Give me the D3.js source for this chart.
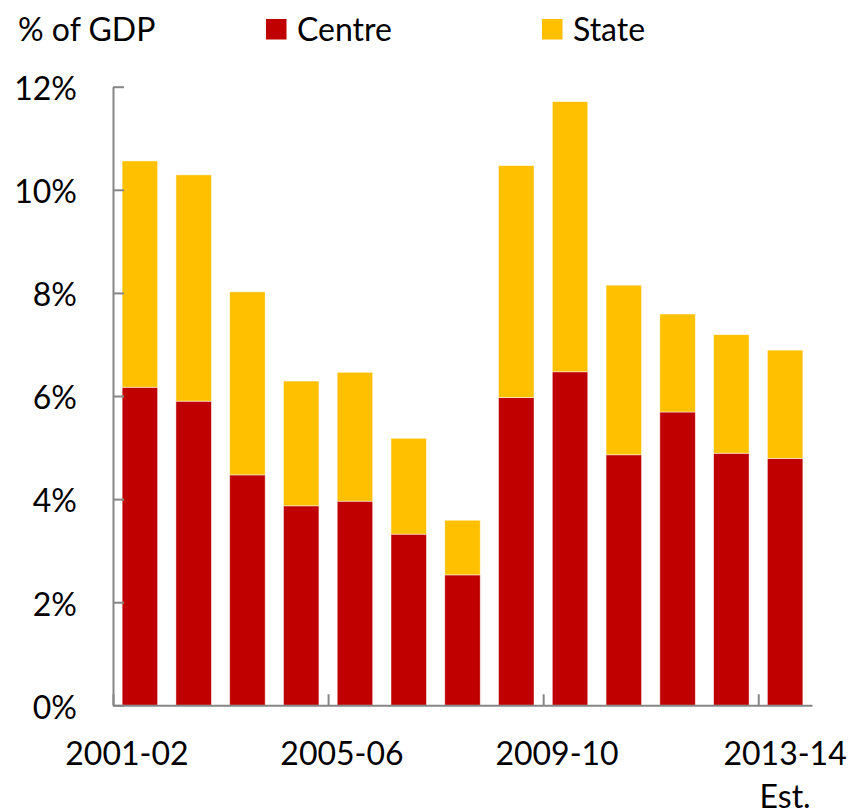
<!DOCTYPE html>
<html>
<head>
<meta charset="utf-8">
<script src="https://cdn.jsdelivr.net/npm/d3@7"></script>
<style>
   body { margin: 0; background: #fff; }
   svg { display: block; font-family: Lato, "Open Sans", sans-serif; }
</style>
</head>
<body>
<svg width="852" height="811"></svg>
<script>
// DATA
var years = ['2001-02', '2002-03', '2003-04', '2004-05', '2005-06', '2006-07', '2007-08',
   '2008-09', '2009-10', '2010-11', '2011-12', '2012-13', '2013-14'];
var centre = [6.17, 5.90, 4.47, 3.87, 3.96, 3.32, 2.53, 5.97, 6.47, 4.86, 5.69, 4.89, 4.79];
var state = [4.39, 4.39, 3.55, 2.42, 2.50, 1.86, 1.06, 4.50, 5.24, 3.29, 1.90, 2.30, 2.10];
var yTicks = [0, 2, 4, 6, 8, 10, 12];
var xLabels = [
   {year: '2001-02', lines: ['2001-02']},
   {year: '2005-06', lines: ['2005-06']},
   {year: '2009-10', lines: ['2009-10']},
   {year: '2013-14', lines: ['2013-14', 'Est.']}
];
var seriesNames = ['Centre', 'State'];
var colors = {Centre: '#C00000', State: '#FFC000'};

(function () {
   var svg = d3.select('svg');
   var axisColor = '#868686';

   var plot = {left: 113, right: 812, top: 86.7, bottom: 705.3};

   var x = d3.scaleBand()
      .domain(years)
      .range([plot.left, plot.right])
      .paddingInner(0.34)
      .paddingOuter(0.17);

   // category boundaries, for the x tick marks
   var xEdge = d3.scaleLinear().domain([0, years.length]).range([plot.left, plot.right]);

   var y = d3.scaleLinear().domain([0, 12]).range([plot.bottom, plot.top]);

   var rows = years.map(function (yr, i) {
      return {year: yr, Centre: centre[i], State: state[i]};
   });

   var stacked = d3.stack().keys(seriesNames)(rows);

   // bars
   svg.append('g')
      .selectAll('g')
      .data(stacked)
      .enter().append('g')
      .attr('fill', function (d) { return colors[d.key]; })
      .selectAll('rect')
      .data(function (d) { return d; })
      .enter().append('rect')
      .attr('x', function (d) { return x(d.data.year); })
      .attr('y', function (d) { return y(d[1]); })
      .attr('width', x.bandwidth())
      .attr('height', function (d) { return y(d[0]) - y(d[1]); })
      .attr('stroke', '#fff')
      .attr('stroke-opacity', 0.6)
      .attr('stroke-width', 0.8);

   // y axis
   var yAxis = svg.append('g')
      .attr('transform', 'translate(' + plot.left + ',0)')
      .call(d3.axisLeft(y).tickValues(yTicks).tickSize(-11).tickSizeOuter(0).tickPadding(36)
         .tickFormat(function (d) { return d + '%'; }));
   yAxis.select('.domain').attr('stroke', axisColor).attr('stroke-width', 2);
   yAxis.selectAll('.tick line').attr('stroke', axisColor).attr('stroke-width', 2);
   yAxis.selectAll('.tick text')
      .attr('font-size', 32)
      .attr('font-family', 'Lato, sans-serif')
      .attr('fill', '#000')
      .attr('dy', '0.4em');

   // x axis: line plus tick marks pointing up at category boundaries
   var xAxis = svg.append('g')
      .attr('transform', 'translate(0,' + plot.bottom + ')')
      .call(d3.axisBottom(xEdge).tickValues([0, 4, 8, 12]).tickSize(-11).tickSizeOuter(0).tickFormat(''));
   xAxis.select('.domain').attr('stroke', axisColor).attr('stroke-width', 2);
   xAxis.selectAll('.tick line').attr('stroke', axisColor).attr('stroke-width', 2);

   // x labels
   var lbl = svg.append('g')
      .selectAll('text')
      .data(xLabels)
      .enter().append('text')
      .attr('text-anchor', 'middle')
      .attr('font-size', 32)
      .attr('fill', '#000')
      .attr('transform', function (d) {
         var shift = d.lines.length > 1 ? 0 : -13;
         return 'translate(' + (x(d.year) + x.bandwidth() / 2 + shift) + ',765)';
      });
   lbl.selectAll('tspan')
      .data(function (d) { return d.lines; })
      .enter().append('tspan')
      .attr('x', 0)
      .attr('y', function (d, i) { return i * 43; })
      .text(function (d) { return d; });

   // legend
   svg.append('text')
      .attr('x', 18)
      .attr('y', 41)
      .attr('font-size', 32)
      .attr('fill', '#000')
      .text('% of GDP');

   var legendX = {Centre: 266, State: 542};
   var legend = svg.selectAll('.legend')
      .data(seriesNames)
      .enter().append('g')
      .attr('class', 'legend')
      .attr('transform', function (d) { return 'translate(' + legendX[d] + ',19)'; });

   legend.append('rect')
      .attr('width', 20.5)
      .attr('height', 20.5)
      .attr('fill', function (d) { return colors[d]; });

   legend.append('text')
      .attr('x', 31)
      .attr('y', 22)
      .attr('font-size', 32)
      .attr('fill', '#000')
      .text(function (d) { return d; });
})();
</script>
</body>
</html>
